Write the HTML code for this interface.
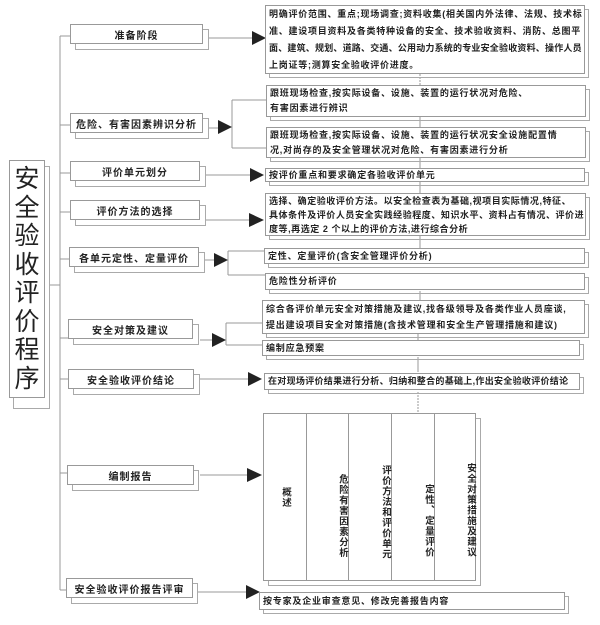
<!DOCTYPE html>
<html><head><meta charset="utf-8"><style>
body{margin:0;width:600px;height:625px;background:#fff;position:relative;overflow:hidden;font-family:"Liberation Sans","Noto Sans CJK SC",sans-serif;color:#222}
.b{position:absolute;border:1px solid #999;background:#fff;box-sizing:border-box}
.s{position:absolute;border:1px solid #aaa;box-sizing:border-box}
.l{font-size:10px;font-weight:bold;text-align:center;letter-spacing:1px;display:flex;align-items:center;justify-content:center}
.r{font-size:9px;font-weight:bold;line-height:17px;padding:0 0 0 3px;letter-spacing:0.8px;white-space:nowrap;overflow:hidden}
.v{position:absolute;top:0;bottom:0;border-right:1px solid #999;font-size:9.5px;font-weight:bold;writing-mode:vertical-rl;text-orientation:upright;display:flex;justify-content:center;letter-spacing:1px;line-height:12px}
svg{position:absolute;left:0;top:0}
</style></head><body>
<svg width="600" height="625">
<g stroke="#999" fill="none" stroke-width="1">
<line x1="60" y1="36" x2="60" y2="590"/>
<line x1="50" y1="285" x2="60" y2="285"/>
<line x1="60" y1="36" x2="70" y2="36"/><line x1="60" y1="125" x2="70" y2="125"/>
<line x1="60" y1="173" x2="70" y2="173"/><line x1="60" y1="212" x2="70" y2="212"/>
<line x1="60" y1="259" x2="70" y2="259"/><line x1="60" y1="338" x2="70" y2="338"/>
<line x1="60" y1="379" x2="70" y2="379"/><line x1="60" y1="473" x2="70" y2="473"/>
<line x1="60" y1="590" x2="70" y2="590"/>
<line x1="208" y1="38" x2="252" y2="38"/>
<line x1="208" y1="128" x2="220" y2="128"/><polyline points="232,100 232,148"/><line x1="232" y1="100" x2="266" y2="100"/><line x1="232" y1="148" x2="266" y2="148"/>
<line x1="205" y1="175" x2="252" y2="175"/>
<line x1="205" y1="220" x2="252" y2="220"/>
<line x1="205" y1="260" x2="215" y2="260"/><polyline points="228,251 228,275"/><line x1="228" y1="251" x2="264" y2="251"/><line x1="228" y1="275" x2="265" y2="275"/>
<line x1="200" y1="340" x2="212" y2="340"/><polyline points="226,323 226,345"/><line x1="226" y1="323" x2="262" y2="323"/><line x1="226" y1="345" x2="262" y2="345"/>
<line x1="200" y1="379" x2="248" y2="379"/>
<line x1="200" y1="475" x2="248" y2="475"/>
<line x1="198" y1="592" x2="246" y2="592"/>
<line x1="420" y1="74" x2="420" y2="85" stroke-dasharray="2,1"/>
<line x1="420" y1="117" x2="420" y2="127"/>
<line x1="420" y1="158" x2="420" y2="168"/>
<line x1="420" y1="181" x2="420" y2="193"/>
<line x1="420" y1="236" x2="420" y2="248"/>
<line x1="420" y1="291" x2="420" y2="300"/>
<line x1="418" y1="334" x2="418" y2="340"/>
<line x1="418" y1="357" x2="418" y2="372"/>
<line x1="418" y1="392" x2="418" y2="412" stroke-dasharray="2,1"/>
</g>
<g fill="#222">
<polygon points="252,31 266,38 252,45"/>
<polygon points="218,120 232,127 218,134"/>
<polygon points="250,168 264,175 250,182"/>
<polygon points="249,213 264,220 249,227"/>
<polygon points="214,253 228,260 214,267"/>
<polygon points="212,333 226,340 212,347"/>
<polygon points="248,372 262,379 248,386"/>
<polygon points="247,468 262,475 247,482"/>
<polygon points="246,585 260,592 246,599"/>
</g>
</svg>

<div class="s" style="left:13px;top:166px;width:37px;height:243px"></div>
<div class="b" style="left:9px;top:160px;width:36px;height:238px;font-size:25px;line-height:28.5px;text-align:center;padding-top:4px">安<br>全<br>验<br>收<br>评<br>价<br>程<br>序</div>

<div class="s" style="left:75px;top:29px;width:134px;height:21px"></div><div class="b l" style="left:70px;top:24px;width:133px;height:20px">准备阶段</div>
<div class="s" style="left:75px;top:118px;width:134px;height:21px"></div><div class="b l" style="left:70px;top:113px;width:133px;height:20px">危险、有害因素辨识分析</div>
<div class="s" style="left:75px;top:166px;width:131px;height:21px"></div><div class="b l" style="left:70px;top:161px;width:130px;height:20px">评价单元划分</div>
<div class="s" style="left:75px;top:205px;width:131px;height:21px"></div><div class="b l" style="left:70px;top:200px;width:130px;height:20px">评价方法的选择</div>
<div class="s" style="left:74px;top:252px;width:131px;height:21px"></div><div class="b l" style="left:69px;top:247px;width:130px;height:20px">各单元定性、定量评价</div>
<div class="s" style="left:73px;top:324px;width:126px;height:21px"></div><div class="b l" style="left:68px;top:319px;width:125px;height:20px">安全对策及建议</div>
<div class="s" style="left:73px;top:374px;width:127px;height:21px"></div><div class="b l" style="left:68px;top:369px;width:126px;height:20px">安全验收评价结论</div>
<div class="s" style="left:72px;top:470px;width:127px;height:21px"></div><div class="b l" style="left:67px;top:465px;width:127px;height:20px">编制报告</div>
<div class="s" style="left:71px;top:583px;width:127px;height:21px"></div><div class="b l" style="left:66px;top:578px;width:127px;height:20px">安全验收评价报告评审</div>

<div class="s" style="left:269px;top:9px;width:320px;height:69px"></div>
<div class="b r" style="left:265px;top:5px;width:320px;height:69px;letter-spacing:0.75px">明确评价范围、重点;现场调查;资料收集(相关国内外法律、法规、技术标<br>准、建设项目资料及各类特种设备的安全、技术验收资料、消防、总图平<br><span style="letter-spacing:0.2px">面、建筑、规划、道路、交通、公用动力系统的专业安全验收资料、操作人员</span><br>上岗证等;测算安全验收评价进度。</div>
<div class="s" style="left:270px;top:89px;width:320px;height:32px"></div>
<div class="b r" style="left:266px;top:85px;width:320px;height:32px;line-height:15px">跟班现场检查,按实际设备、设施、装置的运行状况对危险、<br>有害因素进行辨识</div>
<div class="s" style="left:270px;top:131px;width:320px;height:31px"></div>
<div class="b r" style="left:266px;top:127px;width:320px;height:31px;line-height:15px">跟班现场检查,按实际设备、设施、装置的运行状况安全设施配置情<br>况,对尚存的及安全管理状况对危险、有害因素进行分析</div>
<div class="s" style="left:269px;top:172px;width:320px;height:14px"></div>
<div class="b r" style="left:265px;top:168px;width:320px;height:14px;line-height:12px">按评价重点和要求确定各验收评价单元</div>
<div class="s" style="left:269px;top:197px;width:321px;height:43px"></div>
<div class="b r" style="left:265px;top:193px;width:321px;height:43px;line-height:14px;letter-spacing:0.55px">选择、确定验收评价方法。以安全检查表为基础,视项目实际情况,特征、<br>具体条件及评价人员安全实践经验程度、知识水平、资料占有情况、评价进<br>度等,再选定 2 个以上的评价方法,进行综合分析</div>
<div class="s" style="left:268px;top:252px;width:321px;height:16px"></div>
<div class="b r" style="left:264px;top:248px;width:321px;height:16px;line-height:14px">定性、定量评价(含安全管理评价分析)</div>
<div class="s" style="left:269px;top:277px;width:320px;height:17px"></div>
<div class="b r" style="left:265px;top:273px;width:320px;height:17px;line-height:15px">危险性分析评价</div>
<div class="s" style="left:266px;top:304px;width:323px;height:34px"></div>
<div class="b r" style="left:262px;top:300px;width:323px;height:34px;line-height:16px">综合各评价单元安全对策措施及建议,找各级领导及各类作业人员座谈,<br>提出建设项目安全对策措施(含技术管理和安全生产管理措施和建议)</div>
<div class="s" style="left:266px;top:344px;width:318px;height:16px"></div>
<div class="b r" style="left:262px;top:340px;width:318px;height:16px;line-height:14px">编制应急预案</div>
<div class="s" style="left:268px;top:377px;width:316px;height:17px"></div>
<div class="b r" style="left:264px;top:373px;width:316px;height:17px;line-height:15px;letter-spacing:0.3px">在对现场评价结果进行分析、归纳和整合的基础上,作出安全验收评价结论</div>

<div class="s" style="left:268px;top:418px;width:213px;height:168px"></div>
<div class="b" style="left:263px;top:413px;width:213px;height:168px">
<div class="v" style="left:0;width:42px;align-items:center">概述</div>
<div class="v" style="left:42px;width:43px;padding-top:38px;box-sizing:border-box">危险有害因素分析</div>
<div class="v" style="left:85px;width:43px;padding-top:30px;box-sizing:border-box">评价方法和评价单元</div>
<div class="v" style="left:128px;width:43px;padding-top:48px;box-sizing:border-box">定性、定量评价</div>
<div class="v" style="left:171px;width:41px;border-right:0;padding-top:26px;box-sizing:border-box">安全对策措施及建议</div>
</div>
<div class="s" style="left:263px;top:596px;width:306px;height:18px"></div>
<div class="b r" style="left:259px;top:592px;width:306px;height:18px;line-height:16px">按专家及企业审查意见、修改完善报告内容</div>
</body></html>
